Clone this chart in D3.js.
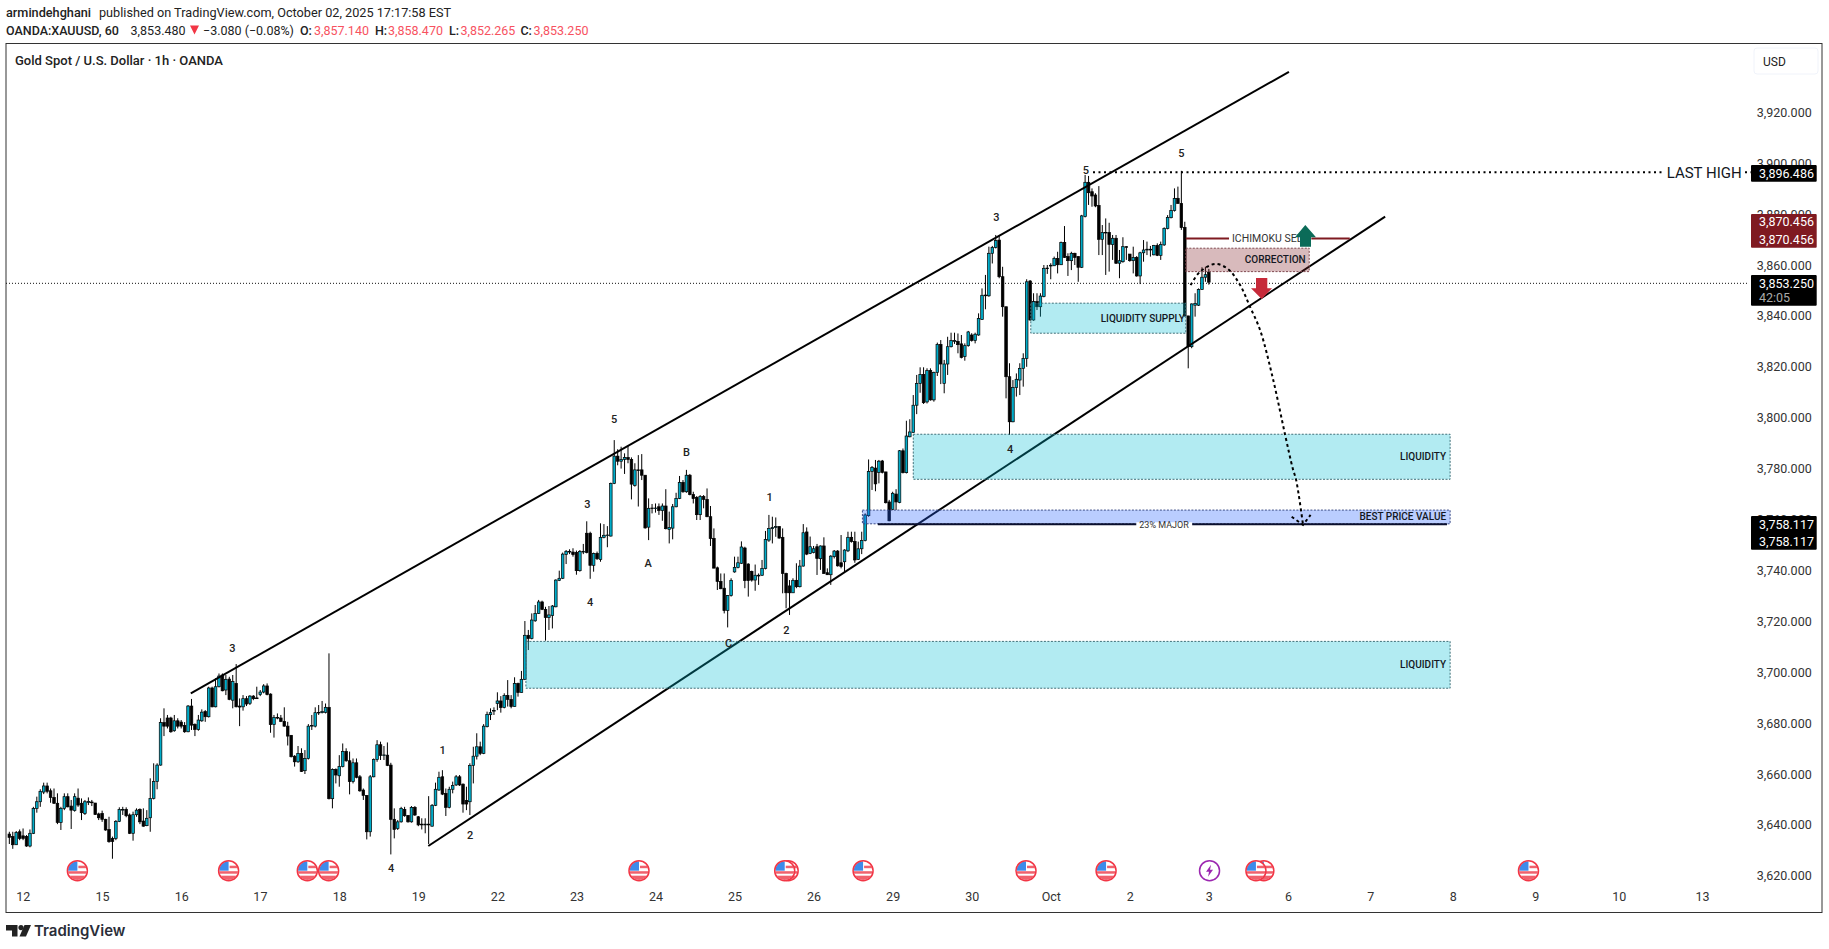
<!DOCTYPE html>
<html>
<head>
<meta charset="utf-8">
<title>Gold Spot / U.S. Dollar</title>
<script src="https://cdn.jsdelivr.net/npm/d3@7"></script>
<style>
    html, body { margin: 0; padding: 0; background: #fff; overflow: hidden; }
    svg { display: block; }
    text { font-family: Roboto, sans-serif; }
</style>
</head>
<body>
<svg id="chart" width="1829" height="949"></svg>
<script>
// Hourly candles by session, each row is [open, high, low, close]
const sep12 = [[3636.4,3637.3,3632.5,3635.1],[3635.4,3637.3,3630.6,3632.2],[3632.2,3637.6,3632.1,3637.0],[3637.3,3638.2,3634.0,3634.7],[3635.7,3638.6,3634.0,3634.7],[3635.4,3636.0,3631.4,3631.7],[3631.7,3638.2,3631.2,3636.7],[3636.7,3647.1,3636.4,3646.5],[3646.5,3651.1,3644.8,3649.1],[3649.1,3654.0,3647.1,3653.2],[3652.9,3656.6,3652.1,3655.3],[3655.3,3656.6,3652.4,3653.2],[3653.4,3654.3,3648.7,3650.8],[3650.8,3654.3,3648.2,3648.5],[3648.5,3652.4,3640.3,3641.0],[3641.0,3647.1,3638.0,3646.5],[3646.5,3652.4,3645.8,3651.1],[3651.1,3652.4,3646.9,3647.1],[3647.4,3649.8,3638.4,3645.8],[3645.6,3652.4,3645.2,3651.1],[3650.5,3654.3,3647.1,3647.8],[3648.5,3650.4,3641.9,3644.8],[3644.5,3649.8,3643.9,3649.1],[3648.8,3650.8,3647.8,3649.2],[3649.0,3649.8,3647.4,3648.7],[3648.6,3648.6,3643.9,3644.1],[3644.3,3644.8,3641.9,3642.8]];
const sep15 = [[3644.5,3645.6,3641.2,3642.2],[3642.2,3642.4,3637.7,3638.0],[3638.2,3643.2,3633.0,3633.4],[3634.7,3635.4,3626.7,3633.5],[3634.7,3641.9,3634.0,3641.4],[3641.4,3646.9,3641.1,3646.1],[3645.8,3647.1,3643.9,3646.1],[3646.1,3646.9,3643.0,3643.6],[3643.9,3644.5,3636.4,3636.7],[3636.7,3645.2,3633.8,3644.0],[3644.0,3646.5,3643.2,3645.8],[3646.1,3646.5,3640.3,3641.2],[3641.5,3646.5,3639.3,3639.5],[3639.7,3645.8,3639.5,3642.6],[3642.8,3658.3,3637.3,3650.4],[3650.4,3664.2,3650.0,3657.0],[3657.0,3664.2,3654.0,3663.5],[3663.5,3681.9,3663.3,3680.2],[3680.2,3685.8,3674.9,3678.8],[3682.0,3683.2,3677.9,3678.8],[3682.0,3682.5,3676.2,3676.6],[3677.0,3683.2,3676.6,3680.9],[3680.9,3681.9,3677.9,3678.8]];
const sep16 = [[3680.4,3681.2,3677.9,3678.8],[3679.1,3680.4,3676.2,3676.6],[3676.6,3687.1,3676.4,3686.7],[3686.7,3689.5,3677.3,3679.2],[3679.5,3679.9,3674.9,3677.5],[3677.5,3683.2,3677.0,3681.2],[3680.9,3685.4,3680.5,3684.3],[3684.5,3685.1,3680.5,3682.5],[3682.5,3694.3,3682.2,3693.8],[3693.8,3694.3,3686.2,3686.4],[3686.4,3697.6,3686.2,3694.3],[3694.3,3699.5,3694.0,3698.5],[3698.9,3699.5,3692.5,3692.7],[3693.0,3698.9,3691.0,3697.2],[3697.3,3698.2,3689.0,3689.3],[3689.0,3698.9,3685.8,3696.3],[3695.6,3703.2,3686.2,3686.4],[3686.7,3689.7,3678.8,3686.3],[3686.4,3691.0,3684.9,3689.6],[3689.6,3690.6,3686.7,3687.5],[3687.8,3691.0,3687.1,3690.6],[3690.6,3691.0,3689.0,3689.6],[3689.9,3694.3,3689.6,3689.6]];
const sep17 = [[3691.2,3693.0,3690.6,3692.2],[3692.2,3695.3,3691.7,3694.6],[3694.6,3695.6,3690.9,3691.2],[3691.4,3691.7,3676.2,3679.4],[3679.4,3683.2,3674.3,3682.2],[3682.2,3683.8,3681.5,3682.0],[3682.0,3683.2,3680.4,3680.7],[3680.7,3686.2,3678.6,3678.8],[3678.8,3680.5,3671.2,3674.9],[3675.2,3675.3,3666.5,3666.8],[3667.0,3667.4,3662.9,3664.8],[3664.8,3671.0,3664.4,3668.1],[3668.1,3670.1,3660.8,3661.0],[3661.3,3669.4,3660.0,3666.1],[3666.1,3679.6,3665.7,3678.8],[3678.8,3683.2,3677.3,3679.1],[3678.8,3686.2,3678.3,3684.1],[3684.0,3687.1,3683.2,3684.2],[3684.1,3688.7,3683.8,3684.5],[3684.2,3687.7,3683.8,3686.2],[3686.2,3707.4,3650.0,3650.3],[3650.3,3662.2,3646.5,3661.8],[3661.8,3662.2,3656.3,3659.6]];
const sep18 = [[3659.3,3667.4,3655.0,3662.9],[3662.9,3672.0,3662.6,3668.9],[3668.9,3670.1,3664.8,3665.2],[3665.2,3668.8,3652.0,3657.0],[3657.0,3666.1,3656.3,3664.4],[3664.4,3666.1,3658.3,3658.7],[3658.9,3659.6,3653.0,3653.4],[3653.7,3654.3,3649.8,3651.6],[3651.6,3651.7,3634.3,3637.3],[3637.3,3659.6,3635.4,3658.9],[3658.9,3666.1,3658.7,3665.7],[3665.7,3673.3,3664.8,3671.5],[3671.5,3672.7,3665.5,3667.3],[3667.3,3671.0,3665.5,3667.5],[3667.4,3672.4,3663.1,3663.4],[3663.5,3664.4,3628.4,3642.2],[3642.2,3646.5,3634.7,3638.2],[3638.6,3641.9,3638.0,3641.2],[3641.2,3647.1,3640.9,3646.5],[3646.1,3647.1,3643.2,3643.6],[3643.7,3643.9,3640.9,3641.2],[3641.2,3647.4,3640.9,3646.9],[3646.9,3647.4,3643.5,3643.9]];
const sep19 = [[3643.2,3643.5,3639.5,3640.0],[3640.3,3642.6,3638.2,3640.0],[3640.0,3642.6,3636.7,3640.3],[3640.3,3651.3,3632.5,3640.0],[3639.5,3648.2,3639.3,3647.7],[3647.7,3656.6,3647.4,3654.0],[3653.7,3660.9,3653.4,3658.7],[3658.9,3661.5,3651.7,3652.1],[3652.4,3654.3,3643.5,3646.9],[3646.9,3655.0,3646.5,3654.0],[3654.0,3657.0,3652.4,3655.5],[3655.7,3659.6,3655.3,3658.9],[3658.9,3659.6,3655.3,3655.7],[3656.0,3656.3,3644.8,3648.2],[3649.6,3655.0,3645.8,3648.2],[3649.1,3664.2,3643.9,3663.4],[3663.4,3670.7,3656.3,3667.0],[3667.0,3676.0,3665.7,3670.7],[3670.7,3672.7,3667.4,3668.1],[3668.1,3679.6,3667.8,3678.8],[3678.6,3684.5,3678.3,3683.4],[3683.3,3685.8,3681.2,3684.1],[3684.7,3686.2,3683.2,3685.0]];
const sep22 = [[3687.7,3692.1,3685.1,3688.7],[3688.7,3690.6,3684.1,3686.1],[3686.1,3691.7,3685.8,3690.9],[3690.9,3696.9,3686.5,3689.3],[3689.3,3691.0,3685.8,3686.5],[3686.5,3698.0,3686.5,3695.6],[3695.6,3695.9,3690.4,3692.0],[3692.0,3700.5,3692.0,3697.2],[3697.2,3720.1,3696.9,3714.5],[3714.5,3716.6,3708.7,3713.2],[3713.2,3723.1,3712.9,3720.5],[3720.2,3726.4,3719.8,3723.1],[3723.1,3728.4,3722.9,3727.6],[3727.6,3728.1,3724.4,3724.7],[3724.7,3725.7,3712.4,3721.5],[3721.5,3726.0,3716.6,3722.5],[3722.3,3726.4,3717.2,3726.0],[3725.7,3736.5,3725.5,3736.2],[3736.1,3739.9,3735.8,3736.9],[3736.9,3747.0,3736.6,3746.4],[3746.2,3748.0,3742.5,3747.5],[3747.2,3748.3,3746.4,3747.5],[3747.2,3748.7,3745.4,3746.2]];
const sep23 = [[3747.0,3747.8,3738.3,3739.9],[3739.9,3748.0,3739.5,3747.4],[3747.2,3750.4,3746.4,3747.5],[3754.6,3759.3,3746.7,3747.0],[3754.6,3755.2,3736.7,3742.0],[3742.0,3747.0,3739.5,3746.7],[3746.7,3747.4,3744.1,3744.6],[3744.3,3758.5,3743.4,3753.0],[3753.0,3758.2,3752.6,3753.8],[3753.7,3757.4,3749.1,3753.9],[3753.5,3774.5,3753.3,3774.2],[3774.2,3791.2,3773.9,3784.9],[3784.9,3787.6,3781.3,3782.9],[3782.9,3788.6,3780.0,3783.6],[3783.6,3786.0,3777.9,3784.4],[3784.4,3788.9,3782.1,3783.6],[3783.6,3784.4,3767.9,3773.9],[3773.4,3782.1,3772.9,3779.5],[3779.5,3785.3,3765.1,3779.2],[3779.5,3785.7,3775.5,3777.4],[3777.4,3777.4,3756.4,3756.7],[3757.0,3768.3,3751.9,3764.4],[3764.5,3766.1,3762.4,3764.3]];
const sep24 = [[3764.3,3766.3,3762.7,3764.5],[3765.0,3766.3,3761.8,3763.5],[3763.5,3766.3,3759.5,3765.3],[3765.3,3771.9,3756.1,3756.4],[3756.1,3763.1,3750.6,3756.9],[3756.6,3766.1,3752.2,3765.0],[3765.0,3770.5,3764.8,3768.3],[3768.3,3777.1,3768.0,3774.6],[3774.6,3775.5,3770.5,3770.9],[3770.9,3779.5,3770.5,3777.4],[3777.4,3777.9,3769.5,3769.8],[3769.8,3770.9,3766.3,3768.2],[3768.7,3769.2,3759.8,3761.9],[3761.9,3769.6,3759.8,3769.0],[3769.0,3769.6,3764.4,3767.9],[3767.9,3772.2,3760.9,3761.1],[3761.1,3765.3,3749.6,3752.5],[3752.6,3756.5,3740.8,3740.9],[3741.0,3741.5,3732.3,3735.7],[3735.7,3738.8,3732.6,3732.8],[3733.0,3738.8,3723.1,3724.2],[3724.2,3730.3,3717.6,3730.1],[3730.1,3736.9,3729.7,3736.1]];
const sep25 = [[3739.4,3745.4,3739.1,3741.2],[3741.1,3745.4,3740.8,3743.0],[3742.8,3751.4,3742.5,3749.2],[3748.8,3749.3,3733.0,3736.0],[3742.5,3742.8,3729.7,3736.0],[3739.6,3739.9,3735.6,3736.2],[3736.2,3742.3,3732.0,3738.1],[3737.8,3738.8,3734.3,3738.1],[3738.1,3744.1,3737.8,3740.8],[3740.7,3755.5,3740.4,3752.2],[3751.9,3761.8,3751.2,3756.5],[3756.4,3761.1,3750.6,3756.8],[3756.9,3760.8,3753.2,3757.2],[3757.2,3757.4,3752.5,3752.7],[3753.0,3756.5,3731.0,3738.8],[3738.8,3739.1,3725.1,3731.2],[3733.9,3736.2,3722.5,3731.2],[3731.2,3736.9,3731.2,3736.1],[3736.1,3742.8,3733.0,3733.6],[3733.6,3744.1,3733.3,3741.7],[3741.7,3758.2,3741.5,3754.8],[3755.1,3756.9,3746.0,3746.4],[3746.7,3753.3,3746.4,3749.3]];
const sep26 = [[3747.0,3749.6,3746.7,3748.5],[3749.3,3750.4,3738.2,3744.7],[3744.6,3749.8,3740.2,3749.6],[3749.6,3753.0,3738.6,3738.8],[3739.1,3740.8,3738.2,3738.3],[3738.3,3746.0,3734.3,3745.6],[3745.4,3748.0,3744.7,3747.6],[3747.6,3748.0,3741.5,3741.8],[3743.0,3753.9,3740.8,3741.5],[3743.4,3748.3,3739.4,3748.0],[3747.7,3755.2,3747.2,3753.0],[3753.0,3755.2,3750.9,3751.3],[3751.4,3755.2,3743.0,3744.1],[3744.3,3751.3,3744.1,3748.5],[3748.5,3755.2,3746.4,3751.7],[3751.7,3762.4,3751.4,3761.8],[3761.5,3783.6,3761.1,3778.9],[3778.9,3781.0,3771.6,3780.5],[3780.2,3783.4,3771.1,3774.0],[3778.5,3783.4,3774.2,3782.9],[3783.0,3783.4,3778.1,3778.5],[3778.7,3778.7,3766.3,3766.6],[3766.9,3767.7,3759.3,3759.5]];
const sep29 = [[3764.0,3770.9,3763.7,3770.3],[3770.0,3771.9,3763.7,3766.9],[3766.7,3787.3,3766.4,3787.0],[3787.0,3787.9,3778.1,3778.4],[3778.4,3798.8,3778.1,3792.8],[3792.5,3799.4,3792.3,3794.4],[3794.2,3808.9,3794.1,3804.9],[3804.9,3816.8,3801.4,3813.5],[3813.5,3819.8,3809.8,3817.0],[3817.0,3819.8,3805.4,3805.9],[3806.2,3819.4,3805.6,3818.5],[3818.5,3819.4,3806.7,3807.0],[3807.0,3818.1,3806.3,3817.8],[3817.8,3829.5,3816.4,3828.8],[3828.8,3830.5,3813.2,3821.1],[3813.5,3822.7,3809.6,3821.1],[3821.1,3831.8,3816.8,3827.9],[3827.9,3833.4,3827.6,3830.3],[3830.0,3833.4,3829.0,3830.3],[3830.0,3833.1,3825.3,3828.7],[3829.0,3832.5,3823.3,3823.7],[3824.0,3829.2,3822.4,3828.3],[3828.3,3834.1,3827.9,3833.7]];
const sep30 = [[3832.5,3833.2,3829.9,3830.3],[3830.3,3833.4,3829.2,3832.8],[3832.5,3841.0,3832.2,3839.0],[3838.6,3850.8,3838.4,3848.1],[3847.9,3856.1,3842.6,3848.2],[3847.9,3867.2,3847.5,3864.6],[3864.6,3867.5,3860.6,3866.9],[3866.9,3871.8,3866.5,3869.6],[3869.8,3871.8,3854.8,3855.4],[3855.4,3859.3,3839.7,3843.6],[3843.6,3843.6,3807.6,3816.1],[3816.1,3821.4,3793.2,3798.4],[3798.4,3814.8,3798.2,3811.9],[3811.9,3817.4,3808.3,3815.1],[3814.8,3821.4,3808.9,3819.4],[3819.4,3825.3,3812.2,3823.3],[3823.3,3854.4,3820.0,3853.4],[3853.7,3854.1,3838.1,3838.4],[3838.4,3848.9,3838.1,3845.6],[3845.6,3848.9,3842.3,3843.6],[3843.6,3848.9,3839.7,3847.8],[3847.6,3860.0,3847.3,3858.7],[3858.6,3860.0,3856.5,3858.8]];
const oct1 = [[3859.6,3860.7,3854.4,3859.9],[3859.7,3863.3,3859.6,3862.6],[3862.6,3865.2,3856.7,3860.1],[3860.1,3869.2,3860.0,3868.8],[3868.9,3875.3,3862.8,3863.0],[3863.3,3864.6,3855.7,3861.7],[3861.7,3865.2,3858.0,3864.6],[3864.6,3864.8,3860.0,3863.0],[3863.3,3863.5,3853.4,3859.1],[3859.1,3879.7,3858.8,3879.3],[3879.0,3895.4,3878.7,3892.5],[3892.5,3895.0,3883.6,3888.4],[3888.8,3890.1,3882.9,3887.1],[3887.5,3888.2,3882.7,3883.2],[3883.4,3891.0,3863.9,3870.1],[3870.1,3875.7,3863.9,3872.8],[3872.6,3878.3,3856.1,3872.8],[3872.8,3876.6,3857.4,3868.1],[3868.0,3871.8,3862.0,3870.5],[3870.5,3871.8,3860.4,3860.7],[3860.7,3865.9,3854.8,3861.7],[3861.3,3870.9,3860.9,3867.2],[3867.2,3867.4,3862.0,3867.1]];
const oct2 = [[3864.3,3864.3,3861.3,3861.7],[3861.7,3867.2,3856.7,3863.0],[3863.0,3863.5,3855.4,3855.7],[3855.7,3865.2,3852.5,3864.8],[3864.8,3869.8,3861.3,3865.9],[3865.9,3869.2,3863.9,3866.2],[3865.9,3867.5,3863.3,3866.2],[3864.0,3867.9,3863.8,3867.7],[3867.7,3868.5,3863.5,3863.8],[3863.8,3869.2,3862.0,3868.0],[3867.9,3874.8,3867.5,3874.4],[3874.3,3879.6,3874.0,3878.7],[3878.6,3883.6,3878.3,3881.4],[3881.4,3890.1,3881.0,3886.1],[3886.2,3890.8,3884.0,3884.2],[3884.2,3897.0,3873.8,3874.7],[3874.8,3877.0,3839.7,3840.0],[3840.0,3840.0,3819.4,3827.9],[3827.9,3844.9,3827.3,3844.7],[3844.2,3848.9,3839.7,3844.9],[3844.2,3850.8,3843.9,3850.4],[3850.4,3859.1,3850.2,3855.2],[3855.2,3859.3,3853.4,3856.2]];
const oct3 = [[3857.14,3858.47,3852.265,3853.25]];

const candles = [].concat(sep12, sep15, sep16, sep17, sep18, sep19, sep22, sep23, sep24, sep25, sep26, sep29, sep30, oct1, oct2, oct3);

// Axes
const priceTicks = [3620, 3640, 3660, 3680, 3700, 3720, 3740, 3760, 3780, 3800, 3820, 3840, 3860, 3880, 3900, 3920];
const dayTickBars = [3.9, 27, 50, 72.9, 96, 119, 142, 165, 188, 211, 234, 257, 280, 303, 326, 349, 372, 396, 420, 444, 468.3, 492.5];
const dayTickLabels = ['12', '15', '16', '17', '18', '19', '22', '23', '24', '25', '26', '29', '30', 'Oct', '2', '3', '6', '7', '8', '9', '10', '13'];

// Drawings, anchored on [bar, price]
const upperChannel = [[52.8, 3691.7], [372.3, 3935.9]];
const lowerChannel = [[121.9, 3631.7], [400.3, 3879]];
const projectionPath = [[343.7, 3852.1], [346.4, 3857.3], [350.8, 3860.4], [354.6, 3858.4], [358.1, 3852.1], [361, 3843.5], [363.9, 3834.5], [367.6, 3815.6], [371.2, 3793.2], [373.4, 3780.1], [374.4, 3775.5], [376.4, 3757.9]];
const projectionHead = [[373.1, 3761.1], [376.4, 3757.9], [378.6, 3761.8]];

const zoneNames = ['LIQUIDITY', 'LIQUIDITY', 'BEST PRICE VALUE', 'LIQUIDITY SUPPLY', 'CORRECTION'];
const zoneBars = [[150.3, 419.2], [263, 419.2], [248.2, 419.2], [297.2, 342.3], [342.3, 378.2]];
const zonePrices = [[3712.1, 3693.7], [3793.5, 3775.8], [3763.7, 3758.3], [3845, 3833.2], [3866.6, 3857.4]];
const zoneFills = ['rgba(0,188,212,0.3)', 'rgba(0,188,212,0.3)', 'rgba(41,98,255,0.32)', 'rgba(0,188,212,0.3)', 'rgba(127,26,33,0.3)'];
const zoneEdges = ['#3f6f78', '#3f6f78', '#3a4a86', '#3f6f78', '#7f4a50'];
const zoneLabelGaps = [4, 4, 4, 1, 3.5];

const waveNames = ['3', '1', '2', '4', '5', 'B', '3', '1', 'A', '4', '2', 'C', '3', '5', '5', '4'];
const waveBars = [64.9, 126.1, 134.1, 111.1, 176, 197, 168.2, 221.2, 185.9, 169, 226.1, 209.3, 287.2, 313.2, 341, 291.2];
const wavePrices = [3709.5, 3669.4, 3636, 3623.1, 3799.5, 3786.5, 3766.1, 3768.8, 3742.9, 3727.6, 3716.6, 3711.5, 3878.9, 3897.3, 3904, 3787.7];

const usEventBars = [19.8, 63.8, 86.7, 92.9, 183.2, 226.6, 225.6, 248.4, 295.8, 319.1, 365, 362.7, 442];
const speechEventBars = [349.2];

const lastHighPrice = 3896.486;
const ichimokuPrice = 3870.456;
const majorPrice = 3758.117;
const lastPrice = 3853.25;
const lastPriceGuide = 3852.8;

// Layout
const frame = { left: 6, right: 1822, top: 43.5, bottom: 912.5 };
const svg = d3.select('#chart');
const x = d3.scaleLinear().domain([0, 349]).range([9.33, 9.33 + 3.437 * 349]);
const y = d3.scaleLinear().domain([3620, 3920]).range([875.8, 112.3]);
const UP = '#00acc9', BLACK = '#000';
const fmt = d3.format(',.3f');

// Header
function headerLine(yPos, size, runs) {
    const t = svg.append('text').attr('y', yPos).attr('font-size', size).attr('fill', '#222');
    runs.forEach(r => {
        t.append('tspan').attr('x', r.x).attr('font-weight', r.bold ? 500 : 400)
            .attr('fill', r.color || null).text(r.t);
    });
}
headerLine(17, 12.7, [{ x: 6, t: 'armindehghani', bold: true }, { x: 99, t: 'published on TradingView.com, October 02, 2025 17:17:58 EST' }]);
headerLine(34.5, 12.5, [
    { x: 6, t: 'OANDA:XAUUSD, 60', bold: true }, { x: 130.6, t: '3,853.480' }, { x: 203, t: '\u22123.080 (\u22120.08%)' },
    { x: 300, t: 'O:', bold: true }, { x: 314, t: '3,857.140', color: '#f7525f' },
    { x: 375, t: 'H:', bold: true }, { x: 388, t: '3,858.470', color: '#f7525f' },
    { x: 449, t: 'L:', bold: true }, { x: 460.4, t: '3,852.265', color: '#f7525f' },
    { x: 520.4, t: 'C:', bold: true }, { x: 533.5, t: '3,853.250', color: '#f7525f' }
]);
svg.append('path').attr('d', 'M190 25.5h9l-4.5 9z').attr('fill', '#f23645');

svg.append('rect')
    .attr('x', frame.left).attr('y', frame.top)
    .attr('width', frame.right - frame.left).attr('height', frame.bottom - frame.top)
    .attr('fill', '#fff').attr('stroke', '#333').attr('stroke-width', 1);

svg.append('text').attr('x', 15).attr('y', 65).attr('font-size', 13).attr('font-weight', 500)
    .attr('fill', '#222').text('Gold Spot / U.S. Dollar \u00b7 1h \u00b7 OANDA');

// Price axis
const priceAxis = svg.append('g')
    .attr('transform', 'translate(1811.7,0)')
    .call(d3.axisRight(y).tickValues(priceTicks).tickSize(0).tickFormat(fmt));
priceAxis.select('.domain').remove();
priceAxis.selectAll('text').attr('x', 0).attr('text-anchor', 'end')
    .attr('font-size', 12.5).attr('fill', '#333').style('font-family', 'Roboto, sans-serif');

// Day axis
const dayAxis = svg.append('g')
    .attr('transform', 'translate(0,889)')
    .call(d3.axisBottom(x).tickValues(dayTickBars).tickSize(0).tickFormat((d, i) => dayTickLabels[i]));
dayAxis.select('.domain').remove();
dayAxis.selectAll('text').attr('font-size', 12.5).attr('fill', '#333').style('font-family', 'Roboto, sans-serif');

// Last price guide
svg.append('line').attr('x1', frame.left).attr('x2', 1748)
    .attr('y1', y(lastPriceGuide)).attr('y2', y(lastPriceGuide))
    .attr('stroke', '#111').attr('stroke-width', 1).attr('stroke-dasharray', '1 2');

// Candles
const candleGroup = svg.append('g');
candleGroup.selectAll('line').data(candles).enter().append('line')
    .attr('x1', (d, i) => x(i)).attr('x2', (d, i) => x(i))
    .attr('y1', d => y(d[1])).attr('y2', d => y(d[2]))
    .attr('stroke', BLACK).attr('stroke-width', 1);
candleGroup.selectAll('rect').data(candles).enter().append('rect')
    .attr('x', (d, i) => x(i) - 1.3).attr('width', 2.6)
    .attr('y', d => y(Math.max(d[0], d[3])))
    .attr('height', d => Math.max(0.6, Math.abs(y(d[0]) - y(d[3]))))
    .attr('fill', d => d[3] >= d[0] ? UP : BLACK)
    .attr('stroke', BLACK).attr('stroke-width', 0.7);

// Channel
const line = d3.line().x(d => x(d[0])).y(d => y(d[1]));
[upperChannel, lowerChannel].forEach(pts => {
    svg.append('path').attr('d', line(pts)).attr('fill', 'none')
        .attr('stroke', BLACK).attr('stroke-width', 2);
});

// Zones and their labels
const zoneGroup = svg.append('g');
zoneNames.forEach((name, i) => {
    const x0 = x(zoneBars[i][0]), x1 = x(zoneBars[i][1]);
    const y0 = y(zonePrices[i][0]), y1 = y(zonePrices[i][1]);
    zoneGroup.append('rect').attr('x', x0).attr('y', y0)
        .attr('width', x1 - x0).attr('height', y1 - y0)
        .attr('fill', zoneFills[i]).attr('stroke', zoneEdges[i])
        .attr('stroke-width', 1).attr('stroke-dasharray', '2 1.5');
    zoneGroup.append('text').attr('x', x1 - zoneLabelGaps[i]).attr('y', (y0 + y1) / 2 + 3.5)
        .attr('text-anchor', 'end').attr('font-size', 10).attr('font-weight', 500)
        .attr('fill', '#131722').text(name);
});

// Horizontal levels with a label sitting on the line
function levelLine(price, bar0, bar1, color, width, label, labelX, fontSize) {
    svg.append('line').attr('x1', x(bar0)).attr('x2', x(bar1))
        .attr('y1', y(price)).attr('y2', y(price))
        .attr('stroke', color).attr('stroke-width', width);
    const t = svg.append('text').attr('x', labelX).attr('y', y(price) + fontSize * 0.36)
        .attr('text-anchor', 'middle').attr('font-size', fontSize).attr('fill', '#333').text(label);
    const b = t.node().getBBox();
    svg.insert('rect', () => t.node()).attr('x', b.x - 3).attr('y', y(price) - 2)
        .attr('width', b.width + 6).attr('height', 4).attr('fill', '#fff');
}
levelLine(ichimokuPrice, 342.3, 390, '#7f1a21', 2, 'ICHIMOKU SELL', 1270, 10.5);
levelLine(majorPrice, 252.7, 418.3, '#0a0f2e', 2, '23% MAJOR', 1164, 9);

// Last high
svg.append('line').attr('x1', 1093).attr('x2', 1663)
    .attr('y1', y(lastHighPrice)).attr('y2', y(lastHighPrice))
    .attr('stroke', BLACK).attr('stroke-width', 2).attr('stroke-dasharray', '2 3.5');
svg.append('line').attr('x1', 1745).attr('x2', 1751)
    .attr('y1', y(lastHighPrice)).attr('y2', y(lastHighPrice))
    .attr('stroke', BLACK).attr('stroke-width', 2).attr('stroke-dasharray', '2 3.5');
svg.append('text').attr('x', 1666.7).attr('y', y(lastHighPrice) + 5.5).attr('font-size', 15)
    .attr('fill', '#131722').text('LAST HIGH');

// Projected move
const curve = d3.line().x(d => x(d[0])).y(d => y(d[1])).curve(d3.curveCatmullRom.alpha(0.5));
svg.append('path').attr('d', curve(projectionPath)).attr('fill', 'none')
    .attr('stroke', BLACK).attr('stroke-width', 2).attr('stroke-dasharray', '3 3');
svg.append('path').attr('d', line(projectionHead)).attr('fill', 'none')
    .attr('stroke', BLACK).attr('stroke-width', 2).attr('stroke-dasharray', '3 3');

// Direction arrows
svg.append('path').attr('fill', '#0b6b58')
    .attr('d', 'M1305.3 225 L1316 237.3 H1311 V246.7 H1300 V237.3 H1295 Z');
svg.append('path').attr('fill', '#c62a3a')
    .attr('d', 'M1256 278 H1267.3 V288.3 H1272 L1261.7 299 L1251 288.3 H1256 Z');

// Wave labels
svg.append('g').selectAll('text').data(waveNames).enter().append('text')
    .attr('x', (d, i) => x(waveBars[i])).attr('y', (d, i) => y(wavePrices[i]) + 4)
    .attr('text-anchor', 'middle').attr('font-size', 11).attr('font-weight', 500).attr('fill', '#222')
    .text(d => d);

// Event markers
const defs = svg.append('defs');
defs.append('clipPath').attr('id', 'flagClip').append('circle').attr('r', 9.4);
function usMarker(bar) {
    const g = svg.append('g').attr('transform', `translate(${x(bar)},870.7)`);
    g.append('circle').attr('r', 10).attr('fill', '#fff');
    const f = g.append('g').attr('clip-path', 'url(#flagClip)');
    f.append('rect').attr('x', -10).attr('y', 0.5).attr('width', 20).attr('height', 2.5).attr('fill', '#f0616d');
    f.append('rect').attr('x', -10).attr('y', 5).attr('width', 20).attr('height', 6).attr('fill', '#f0616d');
    f.append('rect').attr('x', 1).attr('y', -5).attr('width', 10).attr('height', 2.5).attr('fill', '#f0616d');
    f.append('rect').attr('x', -10).attr('y', -10).attr('width', 10).attr('height', 10).attr('fill', '#3d8bea');
    g.append('circle').attr('r', 10).attr('fill', 'none').attr('stroke', '#f23645').attr('stroke-width', 1.5);
}
usEventBars.forEach(usMarker);
speechEventBars.forEach(bar => {
    const g = svg.append('g').attr('transform', `translate(${x(bar)},870.7)`);
    g.append('circle').attr('r', 10).attr('fill', '#fff').attr('stroke', '#9c27b0').attr('stroke-width', 1.5);
    g.append('path').attr('d', 'M1.5 -6 L-3.5 1 H-0.5 L-1.5 6 L3.5 -1 H0.5 Z').attr('fill', '#9c27b0');
});

// Currency button
svg.append('rect').attr('x', 1754).attr('y', 48).attr('width', 64).attr('height', 26).attr('rx', 3)
    .attr('fill', '#fff').attr('stroke', '#f0f3fa').attr('stroke-width', 1);
svg.append('text').attr('x', 1763).attr('y', 66).attr('font-size', 12).attr('fill', '#222').text('USD');

// Price tags
function priceTag(top, bottom, fill, rows) {
    svg.append('rect').attr('x', 1751).attr('y', top).attr('width', 65.7).attr('height', bottom - top)
        .attr('rx', 1).attr('fill', fill);
    rows.forEach(r => {
        svg.append('text').attr('x', 1759).attr('y', r.y + 4.5).attr('font-size', 12.5)
            .attr('fill', r.color || '#fff').text(r.t);
    });
}
priceTag(165, 181.7, BLACK, [{ y: 173, t: fmt(lastHighPrice) }]);
priceTag(214, 247.7, '#7f1a21', [{ y: 221.7, t: fmt(ichimokuPrice) }, { y: 239, t: fmt(ichimokuPrice) }]);
priceTag(275, 305.7, BLACK, [{ y: 283, t: fmt(lastPrice) }, { y: 297, t: '42:05', color: '#aaa' }]);
priceTag(516, 549.7, BLACK, [{ y: 524, t: fmt(majorPrice) }, { y: 541, t: fmt(majorPrice) }]);

// Logo
const logo = svg.append('g').attr('fill', '#222');
logo.append('path').attr('d', 'M6 925h11.5v11.5h-5.5v-6h-6z');
logo.append('circle').attr('cx', 21).attr('cy', 927.6).attr('r', 2.6);
logo.append('path').attr('d', 'M24.5 925h6.5l-5 11.5h-6.5z');
svg.append('text').attr('x', 34).attr('y', 936).attr('font-size', 15).attr('font-weight', 600)
    .attr('fill', '#2a2e39').style('font-family', 'Inter, sans-serif').text('TradingView');
</script>
</body>
</html>
